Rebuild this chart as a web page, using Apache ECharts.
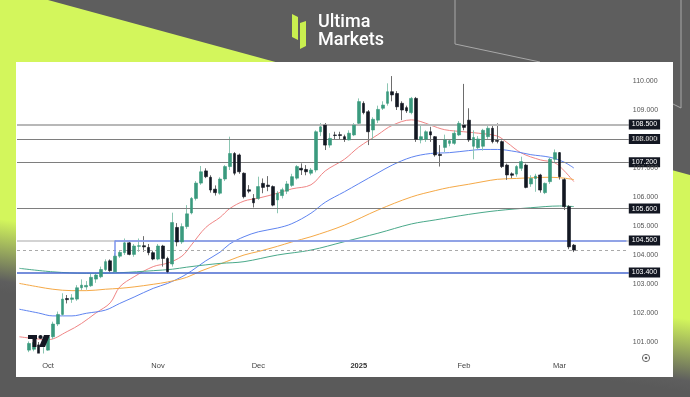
<!DOCTYPE html>
<html><head><meta charset="utf-8">
<script src="https://cdn.jsdelivr.net/npm/echarts@6/dist/echarts.min.js"></script>
<style>html,body{margin:0;padding:0;background:#5e5e5e}#c{width:690px;height:397px}</style>
</head><body><div id="c"></div><script>
// ---------- data ----------
const firstDay = '2024-09-23';
const dayCount = 128;                 // weekdays on the time axis (incl. empty space)
const holidays = ['2024-12-25', '2025-01-01'];
const candleOffset = 2;               // first candle sits on the 3rd weekday
const tickLabels = {'2024-10-01':'Oct','2024-11-01':'Nov','2024-12-02':'Dec','2025-01-02':'2025','2025-02-03':'Feb','2025-03-03':'Mar'};
const yTicks = [101,102,103,104,105,106,107,108,109,110];

// [open, close, low, high]
const candles = [
[100.72,100.95,100.65,101.02],[100.75,100.98,100.68,101.05],[100.9,100.4,100.2,101.0],[100.4,100.6,100.2,100.82],
[100.72,101.18,100.7,101.24],[101.18,101.62,101.1,101.7],[101.62,101.95,101.55,102.05],[101.95,102.48,101.9,102.68],
[102.5,102.46,102.33,102.62],[102.47,102.52,102.35,102.65],[102.48,102.87,102.42,102.96],[102.87,102.96,102.79,103.16],
[102.9,102.95,102.8,103.1],[102.94,103.23,102.9,103.35],[103.17,103.31,103.04,103.39],[103.25,103.5,103.2,103.6],
[103.5,103.77,103.45,103.85],[103.8,103.46,103.42,103.85],[103.42,103.96,103.38,104.06],[103.96,104.09,103.9,104.17],
[104.08,104.42,104.0,104.57],[104.42,104.02,103.99,104.45],[104.02,104.31,103.94,104.38],[104.3,104.32,104.11,104.57],
[104.32,104.28,104.11,104.65],[104.26,104.08,103.99,104.38],[104.08,103.86,103.82,104.15],[103.86,104.31,103.82,104.38],
[104.31,103.88,103.6,104.35],[103.88,103.42,103.37,103.94],[103.69,105.12,103.6,105.46],[104.95,104.45,104.3,105.1],
[104.45,104.98,104.38,105.09],[104.98,105.42,104.9,105.72],[105.45,105.95,105.4,106.0],[105.95,106.48,105.88,106.55],
[106.48,106.87,106.42,107.07],[106.9,106.7,106.65,106.99],[106.68,106.24,106.15,106.75],[106.27,106.15,106.05,106.4],
[106.13,106.62,106.08,106.68],[106.62,107.05,106.55,107.1],[107.05,107.5,106.93,108.08],[107.5,106.82,106.75,107.55],
[107.45,106.87,106.8,107.5],[106.82,106.01,105.95,106.85],[106.25,106.2,106.13,106.41],[105.95,105.8,105.64,106.1],
[105.95,106.36,105.9,106.7],[106.47,106.33,106.13,106.64],[106.41,106.36,106.2,106.72],[106.36,105.72,105.68,106.4],
[105.9,106.13,105.44,106.2],[106.05,106.25,105.95,106.32],[106.2,106.45,106.1,106.55],[106.4,106.7,106.35,106.8],
[106.65,107.05,106.6,107.1],[106.99,106.93,106.76,107.16],[106.95,106.87,106.75,107.1],[106.82,106.93,106.75,107.0],
[106.93,108.25,106.85,108.3],[108.25,108.42,108.1,108.55],[108.48,107.79,107.62,108.55],[107.79,108.02,107.7,108.2],
[108.14,108.12,108.0,108.25],[108.15,108.12,108.0,108.25],[108.08,107.99,107.9,108.15],[107.97,108.2,107.95,108.3],
[108.14,108.48,108.1,108.55],[108.54,109.29,108.5,109.4],[109.23,108.91,108.85,109.3],[108.94,108.25,107.79,109.0],
[108.31,108.68,108.0,108.75],[108.65,109.02,108.55,109.15],[109.06,109.17,109.0,109.3],[109.23,109.63,109.15,109.92],
[109.63,109.52,109.3,110.17],[109.57,109.11,109.0,109.65],[109.23,109.0,108.65,109.3],[109.08,108.97,108.9,109.15],
[108.91,109.4,108.85,109.45],[109.4,107.99,107.9,109.45],[107.97,108.08,107.85,108.48],[107.99,108.25,107.9,108.3],
[108.25,108.14,107.9,108.42],[108.08,107.45,107.39,108.1],[107.47,107.43,107.05,107.79],[107.71,107.97,107.55,108.15],
[107.85,107.94,107.75,108.0],[107.85,108.2,107.8,108.3],[108.14,108.54,108.1,108.62],[108.48,108.4,108.3,109.9],
[108.65,107.97,107.9,109.06],[107.75,108.05,107.3,108.3],[107.7,108.0,107.65,108.1],[107.75,108.3,107.6,108.35],
[108.08,108.37,108.0,108.45],[108.37,107.91,107.85,108.45],[107.95,107.92,107.85,108.54],[107.91,107.05,107.0,107.95],
[107.1,106.76,106.59,107.15],[106.8,106.75,106.65,106.85],[106.79,107.05,106.7,107.1],[106.99,107.22,106.9,107.39],
[107.1,106.33,106.3,107.15],[106.45,106.64,106.35,106.75],[106.64,106.72,106.18,106.8],[106.76,106.24,106.15,106.8],
[106.15,106.47,106.1,106.5],[106.53,107.3,106.45,107.35],[107.3,107.53,107.2,107.64],[107.53,106.7,106.6,107.55],
[106.6,105.67,105.55,106.65],[105.67,104.28,104.2,105.72],[104.34,104.17,104.1,104.38]
];

// moving averages: [candle index, value]
const maRed = [[-2,101.18],[1,101.12],[4,101.08],[8,101.36],[11,101.64],[14,102.0],[17,102.35],[19,102.9],[22,103.25],[26,103.6],[29,103.72],[32,103.96],[34,104.35],[37,104.95],[40,105.3],[42,105.6],[45,105.86],[48,105.96],[52,106.13],[55,106.28],[59,106.42],[62,106.9],[66,107.3],[69,107.72],[73,108.15],[76,108.47],[80,108.66],[82,108.6],[84,108.48],[87,108.32],[91,108.25],[94,108.2],[98,108.1],[100,107.88],[103,107.52],[107,107.28],[110,107.18],[112,106.9],[114,106.53]];
const maBlue = [[-2,102.13],[2,102.0],[5,101.9],[9,101.9],[12,101.99],[16,102.1],[19,102.33],[22,102.55],[26,102.85],[29,103.02],[32,103.25],[34,103.45],[37,103.8],[40,104.1],[42,104.38],[45,104.63],[48,104.8],[52,104.93],[55,105.08],[59,105.44],[62,105.82],[66,106.18],[69,106.46],[73,106.83],[76,107.1],[80,107.37],[84,107.5],[88,107.53],[92,107.6],[95,107.64],[98,107.64],[102,107.56],[105,107.46],[109,107.37],[112,107.2],[114,107.0]];
const maOrange = [[-2,103.02],[2,102.9],[5,102.82],[9,102.77],[12,102.77],[16,102.82],[19,102.85],[22,102.9],[26,102.99],[29,103.07],[33,103.23],[36,103.45],[40,103.69],[45,104.0],[48,104.12],[52,104.3],[55,104.45],[59,104.63],[66,105.03],[73,105.55],[80,106.0],[85,106.22],[88,106.33],[92,106.44],[95,106.53],[98,106.61],[102,106.64],[106,106.67],[109,106.68],[112,106.65],[114,106.6]];
const maGreen = [[-2,103.54],[5,103.42],[12,103.37],[19,103.39],[26,103.46],[30,103.51],[33,103.58],[37,103.66],[40,103.71],[45,103.77],[52,104.0],[59,104.17],[66,104.46],[73,104.75],[80,105.07],[85,105.21],[92,105.4],[98,105.53],[105,105.63],[111,105.69],[114,105.67]];

const levels = [108.5, 108.0, 107.2, 105.6, 104.5, 103.4];
const lastPrice = 104.17;
const zoneStart = 18, zoneTop = 104.5, zoneBottom = 103.4;

// ---------- build ----------
function weekdays(start, count, skip) {
  const out = []; const d = new Date(start + 'T00:00:00Z');
  while (out.length < count) {
    const s = d.toISOString().slice(0, 10), w = d.getUTCDay();
    if (w !== 0 && w !== 6 && skip.indexOf(s) < 0) out.push(s);
    d.setUTCDate(d.getUTCDate() + 1);
  }
  return out;
}
const categories = weekdays(firstDay, dayCount, holidays);
const lastCat = categories.length - 1;
const wickData = candles.map((r, k) => [k + candleOffset, r[0], r[1], r[2], r[3]]);
const bodyData = candles.map((r, k) => [k + candleOffset, r[0], r[1], Math.min(r[0], r[1]), Math.max(r[0], r[1])]);
const toLine = a => a.map(p => [p[0] + candleOffset, p[1]]);

const UP = '#3a9a7e', DOWN = '#131722';
const boxLabel = {show: true, position: 'end', distance: 0, formatter: p => p.value.toFixed(3),
  color: '#ffffff', backgroundColor: '#131722', padding: [2, 3, 1, 3], fontSize: 7, lineHeight: 7};
const levelStyle = {
  108.5: {color: '#b8b8b8', width: 2, type: 'solid'},
  108.0: {color: '#7e7e7e', width: 1.2, type: 'solid'},
  107.2: {color: '#7e7e7e', width: 1.2, type: 'solid'},
  105.6: {color: '#7e7e7e', width: 1.2, type: 'solid'},
  104.5: {color: '#c4c4c4', width: 1.5, type: 'solid'},
  103.4: {color: '#4868cf', width: 1.5, type: 'solid'}
};
const markData = levels.map(v => ({yAxis: v, lineStyle: levelStyle[v], label: boxLabel}));
markData.push({yAxis: lastPrice, lineStyle: {color: '#a9a9a9', width: 1, type: [3, 3]}, label: {show: false}});
markData.push([{coord: [zoneStart + candleOffset, zoneTop], lineStyle: {color: '#7b93ec', width: 1.5, type: 'solid'}, label: {show: false}},
               {coord: [lastCat, zoneTop]}]);
markData.push([{coord: [zoneStart + candleOffset, zoneTop], lineStyle: {color: '#7b93ec', width: 1.5, type: 'solid'}, label: {show: false}},
               {coord: [zoneStart + candleOffset, zoneBottom]}]);

const ma = (name, data, color) => ({type: 'line', name, data: toLine(data), smooth: 0.35, symbol: 'none',
  connectNulls: true, z: 3, silent: true, clip: true, lineStyle: {color, width: 1}});

const LIME = '#d3f65c';
const chart = echarts.init(document.getElementById('c'), null, {renderer: 'canvas'});
chart.setOption({
  animation: false,
  backgroundColor: '#5e5e5e',
  textStyle: {fontFamily: 'Liberation Sans, Arial, sans-serif'},
  grid: {left: 17, top: 62, width: 611.8, height: 291},
  xAxis: {type: 'category', data: categories, boundaryGap: true, z: 12,
    axisLine: {show: false}, axisTick: {show: false}, splitLine: {show: false},
    axisLabel: {interval: (i, v) => !!tickLabels[v], margin: 9, fontSize: 7.5, color: '#444',
      formatter: v => { const t = tickLabels[v] || ''; return /^\d{4}$/.test(t) ? '{b|' + t + '}' : t; },
      rich: {b: {fontWeight: 'bold', fontSize: 7.5, color: '#333'}}}},
  yAxis: {type: 'value', position: 'right', min: 100.6207, max: 110.6552, z: 5,
    axisLine: {show: false}, axisTick: {show: false}, splitLine: {show: false},
    axisLabel: {customValues: yTicks, margin: 4, fontSize: 7, color: '#555', formatter: v => v.toFixed(3)}},
  graphic: [
    {type: 'polygon', z: 0, silent: true, shape: {points: [[0,0],[48,0],[690,175],[690,397],[0,397]]},
      style: {fill: new echarts.graphic.LinearGradient(345, 230, 329, 340,
        [{offset: 0, color: LIME}, {offset: 0.35, color: LIME}, {offset: 0.9, color: '#5e5e5e'}, {offset: 1, color: '#5a5a5a'}], true)}},
    {type: 'polyline', z: 0, silent: true, shape: {points: [[455,0],[455,44],[540,62]]}, style: {stroke: '#a8a8a8', lineWidth: 1, fill: null}},
    {type: 'polyline', z: 0, silent: true, shape: {points: [[681,0],[681,108],[673,104]]}, style: {stroke: '#a8a8a8', lineWidth: 1, fill: null}},
    {type: 'rect', z: 1, silent: true, shape: {x: 16, y: 62, width: 657, height: 315}, style: {fill: '#ffffff'}},
    // time-axis strip: hides anything that runs below the price pane
    {type: 'rect', z: 10, silent: true, shape: {x: 16, y: 353.5, width: 612, height: 23.5}, style: {fill: '#ffffff'}},
    {type: 'polygon', z: 10, silent: true, shape: {points: [[292,14],[298,17],[298,40],[292,37]]}, style: {fill: '#c9ef4f'}},
    {type: 'polygon', z: 10, silent: true, shape: {points: [[300,23],[306,21],[306,46],[300,49]]}, style: {fill: '#c9ef4f'}},
    {type: 'text', z: 10, silent: true, style: {x: 318, y: 13, text: 'Ultima', fill: '#ffffff', font: '500 18px Roboto, sans-serif'}},
    {type: 'text', z: 10, silent: true, style: {x: 318, y: 31, text: 'Markets', fill: '#ffffff', font: '500 18px Roboto, sans-serif'}},
    {type: 'rect', z: 20, silent: true, shape: {x: 28, y: 335, width: 9, height: 4}, style: {fill: '#131722'}},
    {type: 'rect', z: 20, silent: true, shape: {x: 32.5, y: 335, width: 4, height: 12}, style: {fill: '#131722'}},
    {type: 'circle', z: 20, silent: true, shape: {cx: 40.5, cy: 337, r: 2.1}, style: {fill: '#131722'}},
    {type: 'polygon', z: 20, silent: true, shape: {points: [[44,335],[50,335],[45,347],[39,347]]}, style: {fill: '#131722'}},
    {type: 'circle', z: 20, silent: true, shape: {cx: 646, cy: 358, r: 3.6}, style: {fill: null, stroke: '#666', lineWidth: 1}},
    {type: 'circle', z: 20, silent: true, shape: {cx: 646, cy: 358, r: 1.3}, style: {fill: '#666'}}
  ],
  series: [
    ma('MA fast', maRed, '#f08585'),
    ma('MA 2', maBlue, '#5f84f0'),
    ma('MA 3', maOrange, '#f5a947'),
    ma('MA 4', maGreen, '#4aa98a'),
    {type: 'candlestick', name: 'wicks', data: wickData, encode: {x: 0, y: [1, 2, 3, 4]}, barWidth: 1, z: 4, silent: true, clip: true,
      itemStyle: {color: 'rgba(0,0,0,0)', color0: 'rgba(0,0,0,0)', borderColor: '#8cc6b3', borderColor0: '#6d6d6d', borderWidth: 1},
      markLine: {symbol: ['none', 'none'], silent: true, data: markData}},
    {type: 'candlestick', name: 'DXY', data: bodyData, encode: {x: 0, y: [1, 2, 3, 4]}, barWidth: 3.3, z: 6, silent: true, clip: true,
      itemStyle: {color: UP, color0: DOWN, borderColor: UP, borderColor0: DOWN, borderWidth: 0.6}}
  ]
});
</script></body></html>
